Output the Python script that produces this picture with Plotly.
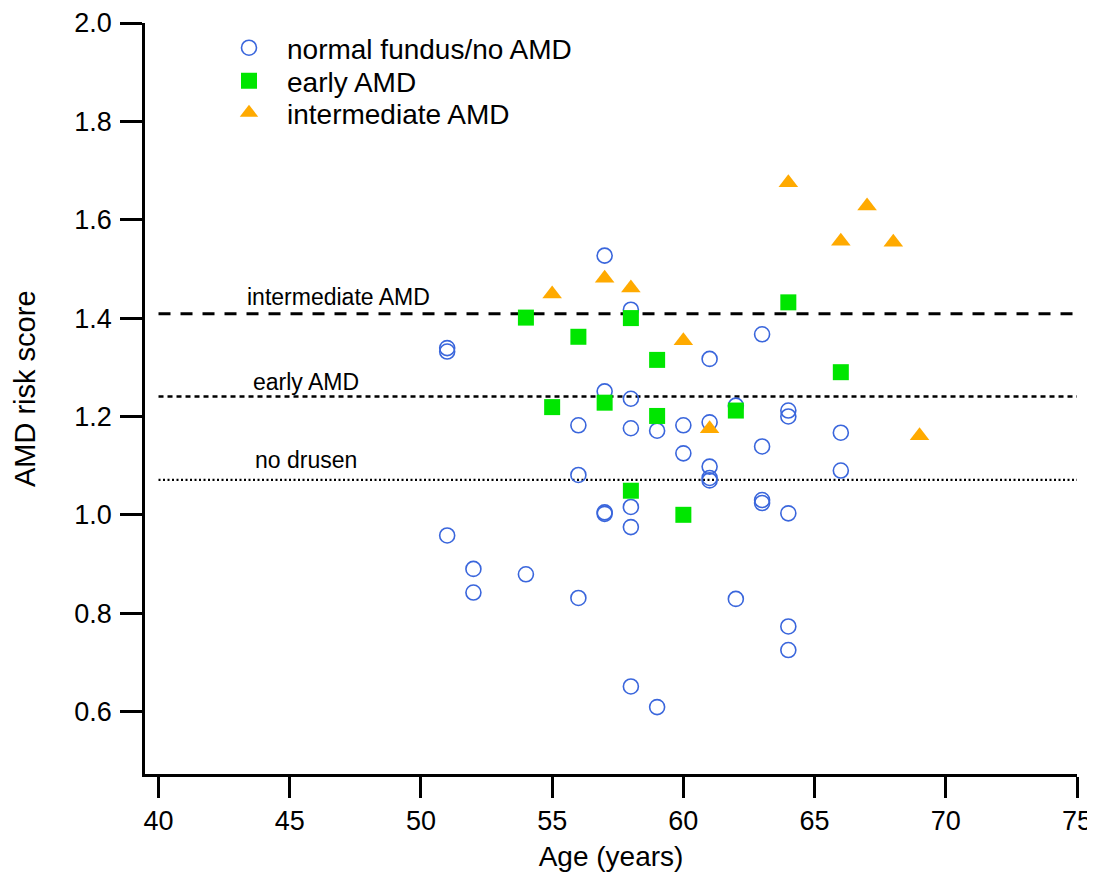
import plotly.graph_objects as go

# ---- data ----
normal_age = [51, 51, 51, 52, 52, 54, 56, 56, 56, 57, 57, 57, 57,
              58, 58, 58, 58, 58, 58, 59, 59, 60, 60, 61, 61, 61, 61, 61,
              62, 62, 63, 63, 63, 63, 64, 64, 64, 64, 64, 66, 66]
normal_score = [1.339, 1.332, 0.958, 0.890, 0.842, 0.879, 1.182, 1.081, 0.831,
                1.527, 1.251, 1.005, 1.002,
                1.417, 1.236, 1.176, 1.016, 0.975, 0.651, 1.171, 0.609,
                1.182, 1.125, 1.317, 1.188, 1.098, 1.075, 1.070,
                1.222, 0.829, 1.367, 1.139, 1.030, 1.024,
                1.212, 1.200, 1.003, 0.773, 0.725, 1.167, 1.090]

early_age = [54, 55, 56, 57, 58, 58, 59, 59, 60, 62, 64, 66]
early_score = [1.401, 1.219, 1.362, 1.228, 1.400, 1.049, 1.315, 1.201, 1.000,
               1.212, 1.432, 1.290]

inter_age = [55, 57, 58, 60, 61, 64, 66, 67, 68, 69]
inter_score = [1.449, 1.481, 1.461, 1.354, 1.175, 1.675, 1.556, 1.628, 1.554, 1.161]

threshold_names = ["intermediate AMD", "early AMD", "no drusen"]
threshold_values = [1.409, 1.2405, 1.071]
threshold_span = [40, 75]

x_ticks = [40, 45, 50, 55, 60, 65, 70, 75]
y_ticks = [0.6, 0.8, 1.0, 1.2, 1.4, 1.6, 1.8, 2.0]

FONT = "Arial, Liberation Sans, Helvetica, sans-serif"

fig = go.Figure()

dash_styles = ["12px,10px", "5px,4px", "2px,2.5px"]
line_widths = [3, 2.5, 2.2]
label_x = [43.29, 43.52, 43.6]
label_y = [1.443, 1.271, 1.112]
for name, val, dsh, lw in zip(threshold_names, threshold_values, dash_styles, line_widths):
    fig.add_trace(go.Scatter(
        x=threshold_span, y=[val, val], mode="lines",
        line=dict(color="black", width=lw, dash=dsh),
        showlegend=False, hoverinfo="skip"))

fig.add_trace(go.Scatter(
    x=normal_age, y=normal_score, mode="markers", name="normal fundus/no AMD",
    legend="legend",
    marker=dict(symbol="circle-open", size=15, color="#3a66dc",
                line=dict(width=1.6, color="#3a66dc"))))
fig.add_trace(go.Scatter(
    x=early_age, y=early_score, mode="markers", name="early AMD",
    legend="legend2",
    marker=dict(symbol="square", size=16, color="#00e600")))
fig.add_trace(go.Scatter(
    x=inter_age, y=inter_score, mode="markers", name="intermediate AMD",
    legend="legend3",
    marker=dict(symbol="triangle-up", size=17, color="#ffaa00")))

for name, lx, ly in zip(threshold_names, label_x, label_y):
    fig.add_annotation(x=lx, y=ly, text=name, showarrow=False,
                       xanchor="left", yanchor="middle",
                       font=dict(size=23, color="black", family=FONT))

# y-axis title as a rotated annotation (sits slightly above the plot centre)
fig.add_annotation(x=0, y=0.5126, xref="paper", yref="paper", xshift=-120,
                   text="AMD risk score", textangle=-90, showarrow=False,
                   xanchor="center", yanchor="middle",
                   font=dict(size=29, color="black", family=FONT))

fig.update_xaxes(
    range=[39.485, 75.0], tickvals=x_ticks, ticks="outside", ticklen=21,
    tickwidth=2.5, tickcolor="black", showline=True, linecolor="black",
    linewidth=2.5, showgrid=False, zeroline=False, automargin=False,
    tickfont=dict(size=27, color="black", family=FONT),
    title=dict(text="Age (years)", font=dict(size=28, color="black", family=FONT),
               standoff=20))
fig.update_yaxes(
    range=[0.473, 2.0], tickvals=y_ticks, tickformat=".1f", ticks="outside",
    ticklen=22, tickwidth=2.5, tickcolor="black", showline=True,
    linecolor="black", linewidth=2.5, showgrid=False, zeroline=False,
    automargin=False, ticklabelstandoff=3,
    tickfont=dict(size=27, color="black", family=FONT))

leg_common = dict(x=0.0708, xanchor="left", yanchor="middle",
                  bgcolor="rgba(0,0,0,0)",
                  font=dict(size=28, color="black", family=FONT),
                  itemwidth=66)
fig.update_layout(
    width=1087, height=864,
    margin=dict(l=137, r=17.5, t=15.3, b=98),
    plot_bgcolor="white", paper_bgcolor="white",
    font=dict(family=FONT, color="black"),
    legend=dict(y=0.9667, **leg_common),
    legend2=dict(y=0.9227, **leg_common),
    legend3=dict(y=0.8802, **leg_common),
)

fig.write_html("out.html")
